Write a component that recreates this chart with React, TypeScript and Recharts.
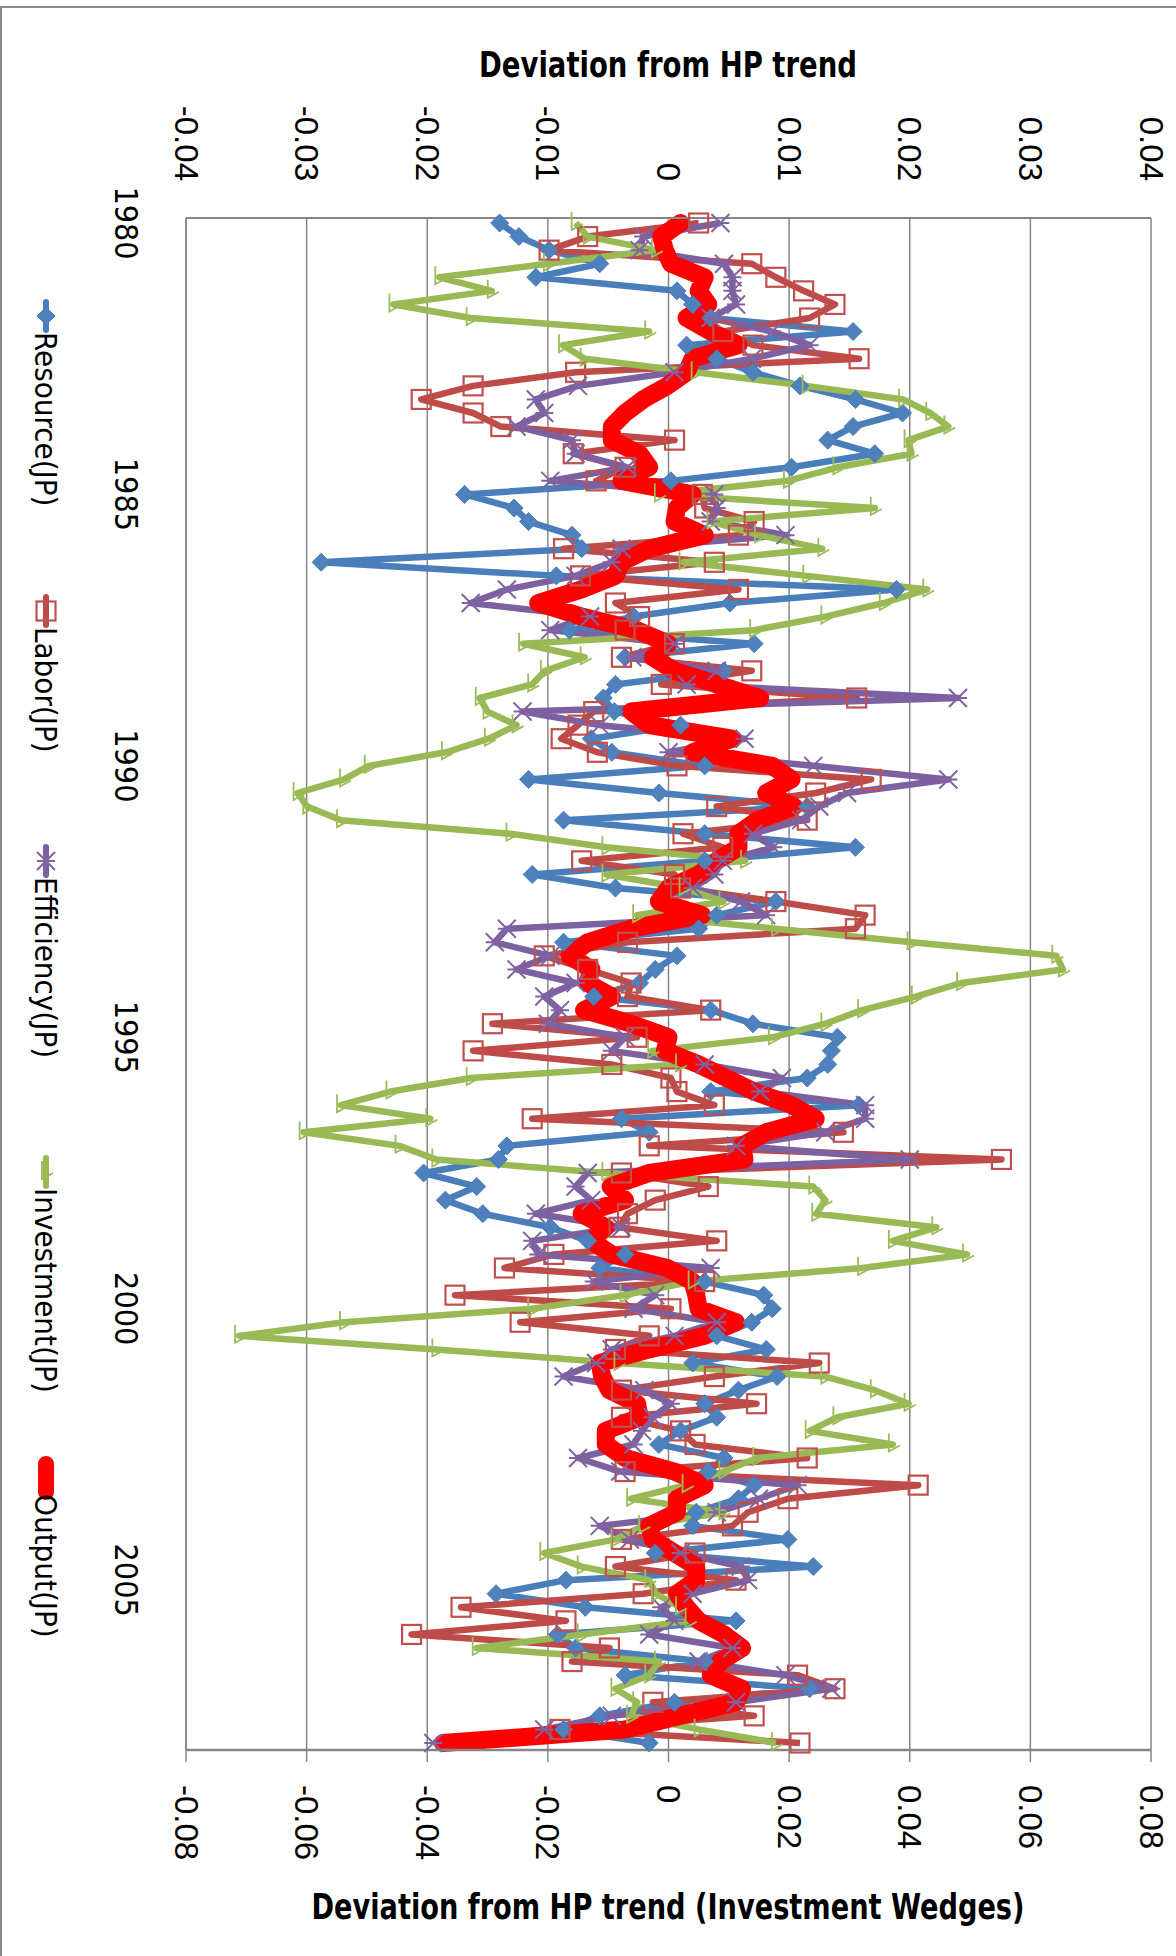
import React from 'react';
import { LineChart, Line, XAxis, YAxis, CartesianGrid } from 'recharts';

// quarterly categories 1980Q1 .. 2008Q1
const quarters: string[] = [];
for (let y = 1980; y <= 2008; y++) {
  for (let q = 1; q <= 4; q++) {
    if (quarters.length < 113) quarters.push(`${y}Q${q}`);
  }
}

const resource = [
  -0.0140, -0.0124, -0.0099, -0.0057, -0.0110, 0.0007, 0.0020, 0.0035, 0.0153, 0.0015,
  0.0040, 0.0070, 0.0109, 0.0155, 0.0194, 0.0153, 0.0132, 0.0171, 0.0102, 0.0002,
  -0.0169, -0.0128, -0.0116, -0.0080, -0.0072, -0.0288, -0.0093, 0.0189, 0.0051, -0.0029,
  -0.0082, 0.0071, -0.0036, 0.0046, -0.0044, -0.0054, -0.0045, 0.0010, -0.0064, -0.0047,
  0.0030, -0.0116, -0.0008, 0.0115, -0.0087, 0.0030, 0.0155, 0.0030, -0.0113, -0.0044,
  0.0089, 0.0040, 0.0025, -0.0087, 0.0007, -0.0011, -0.0024, -0.0062, 0.0035, 0.0070,
  0.0140, 0.0135, 0.0132, 0.0115, 0.0035, 0.0158, -0.0039, -0.0016, -0.0134, -0.0141,
  -0.0203, -0.0159, -0.0185, -0.0154, -0.0098, -0.0067, -0.0036, -0.0057, 0.0030, 0.0079,
  0.0086, 0.0069, 0.0040, 0.0081, 0.0020, 0.0090, 0.0058, 0.0030, 0.0040, 0.0010,
  -0.0008, 0.0046, 0.0033, 0.0071, 0.0058, 0.0023, 0.0020, 0.0099, -0.0011, 0.0120,
  -0.0085, -0.0143, -0.0069, 0.0056, -0.0092, -0.0077, 0.0030, -0.0036, 0.0117, 0.0005,
  -0.0057, -0.0087, -0.0016,
];

const labor = [
  0.0025, -0.0067, -0.0099, 0.0069, 0.0089, 0.0112, 0.0138, 0.0117, 0.0045, 0.0070,
  0.0158, -0.0077, -0.0162, -0.0205, -0.0162, -0.0139, 0.0005, -0.0079, -0.0036, -0.0060,
  0.0028, 0.0030, 0.0071, 0.0058, -0.0087, 0.0038, -0.0073, 0.0058, -0.0044, -0.0024,
  -0.0036, 0.0005, -0.0039, 0.0069, -0.0006, 0.0156, -0.0062, -0.0075, -0.0089, -0.0059,
  0.0007, 0.0168, 0.0122, 0.0040, 0.0115, 0.0012, 0.0045, -0.0072, 0.0005, 0.0010,
  0.0089, 0.0163, 0.0155, -0.0034, -0.0103, -0.0067, -0.0031, -0.0034, 0.0035, -0.0146,
  -0.0026, -0.0162, -0.0047, 0.0002, 0.0007, 0.0038, -0.0113, 0.0145, -0.0016, 0.0276,
  -0.0039, 0.0033, -0.0011, -0.0034, -0.0041, 0.0040, -0.0095, -0.0136, 0.0030, -0.0177,
  0.0002, -0.0123, -0.0016, -0.0044, 0.0125, 0.0038, -0.0039, 0.0073, -0.0039, 0.0010,
  0.0022, 0.0115, -0.0036, 0.0207, 0.0099, 0.0066, 0.0053, -0.0039, 0.0022, -0.0044,
  0.0056, -0.0021, -0.0172, -0.0085, -0.0213, -0.0049, -0.0080, 0.0107, 0.0138, -0.0013,
  0.0071, -0.0090, 0.0109,
];

const efficiency = [
  0.0043, -0.0021, -0.0024, 0.0046, 0.0053, 0.0053, 0.0056, 0.0035, 0.0086, 0.0117,
  0.0069, 0.0005, -0.0075, -0.0110, -0.0103, -0.0126, -0.0080, -0.0077, -0.0034, -0.0098,
  0.0038, 0.0040, 0.0035, 0.0097, -0.0039, -0.0047, -0.0077, -0.0134, -0.0164, -0.0065,
  -0.0098, 0.0005, -0.0030, 0.0040, 0.0015, 0.0240, -0.0121, -0.0057, 0.0063, 0.0000,
  0.0120, 0.0232, 0.0148, 0.0125, 0.0110, 0.0070, 0.0087, 0.0045, 0.0038, 0.0020,
  0.0060, 0.0081, -0.0134, -0.0144, -0.0098, -0.0126, -0.0077, -0.0103, -0.0090, -0.0100,
  -0.0036, -0.0047, 0.0030, 0.0094, 0.0076, 0.0163, 0.0163, 0.0130, 0.0056, 0.0200,
  -0.0067, -0.0077, -0.0064, -0.0110, -0.0039, -0.0113, -0.0108, 0.0035, -0.0062, -0.0011,
  -0.0029, 0.0040, 0.0005, -0.0047, -0.0060, -0.0087, -0.0020, 0.0002, -0.0013, -0.0022,
  -0.0029, -0.0075, -0.0040, 0.0107, 0.0075, 0.0040, -0.0057, -0.0032, 0.0010, 0.0060,
  0.0066, 0.0020, -0.0006, 0.0005, -0.0016, 0.0053, 0.0025, 0.0097, 0.0135, 0.0056,
  -0.0047, -0.0103, -0.0195,
];

// secondary axis (Investment Wedges)
const investment = [
  -0.0154, -0.0134, -0.0021, -0.0200, -0.0380, -0.0293, -0.0456, -0.0328, -0.0032, -0.0175,
  -0.0139, 0.0045, 0.0229, 0.0389, 0.0434, 0.0464, 0.0398, 0.0403, 0.0280, 0.0198,
  -0.0016, 0.0342, 0.0071, 0.0150, 0.0255, 0.0025, 0.0230, 0.0429, 0.0357, 0.0260,
  0.0142, -0.0241, -0.0139, -0.0205, -0.0226, -0.0313, -0.0300, -0.0252, -0.0298, -0.0369,
  -0.0497, -0.0538, -0.0615, -0.0599, -0.0543, -0.0262, -0.0103, 0.0127, -0.0103, 0.0025,
  0.0091, -0.0052, 0.0178, 0.0403, 0.0643, 0.0654, 0.0485, 0.0410, 0.0321, 0.0260,
  0.0173, -0.0027, 0.0019, -0.0328, -0.0461, -0.0543, -0.0395, -0.0605, -0.0446, -0.0385,
  -0.0103, 0.0240, 0.0260, 0.0245, 0.0444, 0.0372, 0.0495, 0.0321, 0.0040, -0.0073,
  -0.0226, -0.0538, -0.0712, -0.0385, -0.0083, 0.0260, 0.0342, 0.0398, 0.0280, 0.0234,
  0.0372, 0.0147, 0.0091, 0.0030, -0.0062, 0.0091, -0.0042, -0.0088, -0.0206, -0.0144,
  -0.0032, -0.0021, 0.0019, 0.0035, -0.0144, -0.0318, -0.0016, -0.0032, -0.0088, -0.0052,
  -0.0062, 0.0050, 0.0178,
];

const output = [
  0.0010, -0.0006, -0.0003, 0.0002, 0.0030, 0.0025, 0.0033, 0.0015, 0.0035, 0.0058,
  0.0020, 0.0015, -0.0001, -0.0021, -0.0036, -0.0047, -0.0047, -0.0024, -0.0016, -0.0039,
  0.0020, 0.0007, 0.0005, 0.0030, -0.0016, -0.0039, -0.0044, -0.0072, -0.0108, -0.0072,
  -0.0026, 0.0000, -0.0013, 0.0005, 0.0040, 0.0076, -0.0031, -0.0016, 0.0053, 0.0020,
  0.0086, 0.0102, 0.0081, 0.0104, 0.0074, 0.0058, 0.0058, 0.0040, 0.0025, 0.0000,
  -0.0008, 0.0028, -0.0031, -0.0067, -0.0082, -0.0064, -0.0067, -0.0047, -0.0070, -0.0031,
  0.0000, -0.0003, 0.0025, 0.0048, 0.0071, 0.0102, 0.0122, 0.0081, 0.0061, 0.0063,
  -0.0016, -0.0048, -0.0036, -0.0072, -0.0052, -0.0064, -0.0047, -0.0001, 0.0020, 0.0023,
  0.0025, 0.0056, 0.0030, -0.0016, -0.0057, -0.0055, -0.0049, -0.0026, -0.0024, -0.0052,
  -0.0052, -0.0036, 0.0005, 0.0030, 0.0007, 0.0007, -0.0016, -0.0013, 0.0005, 0.0023,
  0.0023, 0.0007, 0.0015, 0.0025, 0.0046, 0.0061, 0.0043, 0.0035, 0.0061, 0.0056,
  0.0010, -0.0036, -0.0187,
];

const leftTicks = [-0.04, -0.03, -0.02, -0.01, 0, 0.01, 0.02, 0.03, 0.04];
const leftTickLabels = ['-0.04', '-0.03', '-0.02', '-0.01', '0', '0.01', '0.02', '0.03', '0.04'];
const rightTicks = [-0.08, -0.06, -0.04, -0.02, 0, 0.02, 0.04, 0.06, 0.08];
const rightTickLabels = ['-0.08', '-0.06', '-0.04', '-0.02', '0', '0.02', '0.04', '0.06', '0.08'];

const legendItems = [
  { key: 'resource', label: 'Resource(JP)', at: 316 },
  { key: 'labor', label: 'Labor(JP)', at: 611 },
  { key: 'efficiency', label: 'Efficiency(JP)', at: 861 },
  { key: 'investment', label: 'Investment(JP)', at: 1172 },
  { key: 'output', label: 'Output(JP)', at: 1478 },
];

const rows = quarters.map((q, i) => ({
  q,
  resource: resource[i],
  labor: labor[i],
  efficiency: efficiency[i],
  investment: investment[i],
  output: output[i],
}));

// chart is drawn landscape and turned 90deg clockwise
const LW = 1956;
const LH = 1176;
const NARROW = '"Liberation Sans Narrow", "Arial Narrow", "DejaVu Sans Condensed", sans-serif';
const SANS = '"Liberation Sans", Arial, sans-serif';
const GRID = '#868686';

const COLORS: Record<string, string> = {
  resource: '#4A7EBB',
  labor: '#BE4B48',
  efficiency: '#7D60A0',
  investment: '#98B954',
  output: '#FF0000',
};

const marker = (key: string, cx: number, cy: number, k: string) => {
  if (key === 'resource') {
    return (
      <path key={k} d={`M${cx},${cy - 9}L${cx + 9},${cy}L${cx},${cy + 9}L${cx - 9},${cy}Z`} fill="#4F81BD" stroke="#4A7EBB" strokeWidth={1} />
    );
  }
  if (key === 'labor') {
    return <rect key={k} x={cx - 9.5} y={cy - 9.5} width={19} height={19} fill="none" stroke="#C0504D" strokeWidth={2.2} />;
  }
  if (key === 'efficiency') {
    return (
      <path key={k} d={`M${cx - 9},${cy - 9}L${cx + 9},${cy + 9}M${cx - 9},${cy + 9}L${cx + 9},${cy - 9}M${cx},${cy - 9}L${cx},${cy + 9}`} stroke="#8064A2" strokeWidth={2} fill="none" />
    );
  }
  if (key === 'investment') {
    return <path key={k} d={`M${cx - 11},${cy + 4}L${cx + 7},${cy + 4}L${cx + 1},${cy - 7}`} stroke="#9BBB59" strokeWidth={1.8} fill="none" />;
  }
  return <g key={k} />;
};

const dotFor = (key: string) => (p: any) => marker(key, p.cx, p.cy, `${key}-${p.index}`);

const YearTick = (p: any) => (
  <text x={p.x} y={1050} textAnchor="middle" dominantBaseline="central" fontFamily={NARROW} fontSize={32} fill="#000">
    {String(p.payload.value).slice(0, 4)}
  </text>
);

const LeftTick = (p: any) => (
  <text x={181} y={p.y} textAnchor="end" dominantBaseline="central" fontFamily={SANS} fontSize={33} fill="#000">
    {leftTickLabels[leftTicks.indexOf(p.payload.value)] ?? String(p.payload.value)}
  </text>
);

const RightTick = (p: any) => (
  <text x={1785} y={p.y} textAnchor="start" dominantBaseline="central" fontFamily={SANS} fontSize={33} fill="#000">
    {rightTickLabels[rightTicks.indexOf(p.payload.value)] ?? String(p.payload.value)}
  </text>
);

const App: React.FC = () => {
  return (
    <div style={{ position: 'absolute', left: 0, top: 0, width: 1176, height: 1956, overflow: 'hidden', background: '#fff' }}>
      <div
        style={{
          position: 'absolute',
          left: 0,
          top: 0,
          width: LW,
          height: LH,
          transform: `translateX(${LH}px) rotate(90deg)`,
          transformOrigin: '0 0',
        }}
      >
        <LineChart width={LW} height={LH} data={rows} margin={{ top: 25, right: 0, bottom: 0, left: 0 }}>
          <CartesianGrid yAxisId="left" vertical={false} stroke={GRID} strokeWidth={1.5} />
          <XAxis
            dataKey="q"
            interval={19}
            height={186}
            padding={{ left: 5, right: 7 }}
            tickLine={false}
            axisLine={{ stroke: GRID, strokeWidth: 1.5 }}
            tick={YearTick}
          />
          <YAxis
            yAxisId="left"
            domain={[-0.04, 0.04]}
            ticks={leftTicks}
            width={218}
            tickLine={false}
            axisLine={{ stroke: GRID, strokeWidth: 2 }}
            tick={LeftTick}
            allowDataOverflow
          />
          <YAxis
            yAxisId="right"
            orientation="right"
            domain={[-0.08, 0.08]}
            ticks={rightTicks}
            width={206}
            tickSize={12}
            tickLine={{ stroke: GRID, strokeWidth: 1.5 }}
            axisLine={{ stroke: GRID, strokeWidth: 2.5 }}
            tick={RightTick}
            allowDataOverflow
          />
          <Line yAxisId="left" type="linear" dataKey="resource" stroke={COLORS.resource} strokeWidth={6.5} strokeLinejoin="round" dot={dotFor('resource')} activeDot={false} isAnimationActive={false} />
          <Line yAxisId="left" type="linear" dataKey="labor" stroke={COLORS.labor} strokeWidth={6.5} strokeLinejoin="round" dot={dotFor('labor')} activeDot={false} isAnimationActive={false} />
          <Line yAxisId="left" type="linear" dataKey="efficiency" stroke={COLORS.efficiency} strokeWidth={6.5} strokeLinejoin="round" dot={dotFor('efficiency')} activeDot={false} isAnimationActive={false} />
          <Line yAxisId="right" type="linear" dataKey="investment" stroke={COLORS.investment} strokeWidth={6.5} strokeLinejoin="round" dot={dotFor('investment')} activeDot={false} isAnimationActive={false} />
          <Line yAxisId="left" type="linear" dataKey="output" stroke={COLORS.output} strokeWidth={18} strokeLinejoin="round" strokeLinecap="round" dot={false} activeDot={false} isAnimationActive={false} />
        </LineChart>

        {/* legend, below the year axis in landscape */}
        <svg width={LW} height={LH} style={{ position: 'absolute', left: 0, top: 0, pointerEvents: 'none' }}>
          {legendItems.map((it) => (
            <g key={it.key}>
              <line
                x1={it.at - 14}
                x2={it.at + 14}
                y1={1130}
                y2={1130}
                stroke={COLORS[it.key]}
                strokeWidth={it.key === 'output' ? 16 : 6}
                strokeLinecap="round"
              />
              {marker(it.key, it.at, 1130, `lg-${it.key}`)}
              <text x={it.at + 16} y={1130} dominantBaseline="central" fontFamily={NARROW} fontSize={31} fill="#000">
                {it.label}
              </text>
            </g>
          ))}
        </svg>
      </div>

      {/* frame and axis titles, upright */}
      <svg width={1176} height={1956} style={{ position: 'absolute', left: 0, top: 0, pointerEvents: 'none' }}>
        <path d="M1,1956 L1,7 L1176,7" stroke="#8c8c8c" strokeWidth={2} fill="none" />
        <text x={668} y={64} textAnchor="middle" dominantBaseline="central" fontFamily={NARROW} fontWeight="bold" fontSize={36} textLength={378} lengthAdjust="spacingAndGlyphs" fill="#000">
          Deviation from HP trend
        </text>
        <text x={668} y={1906} textAnchor="middle" dominantBaseline="central" fontFamily={NARROW} fontWeight="bold" fontSize={36} textLength={713} lengthAdjust="spacingAndGlyphs" fill="#000">
          Deviation from HP trend (Investment Wedges)
        </text>
      </svg>
    </div>
  );
};

export default App;
